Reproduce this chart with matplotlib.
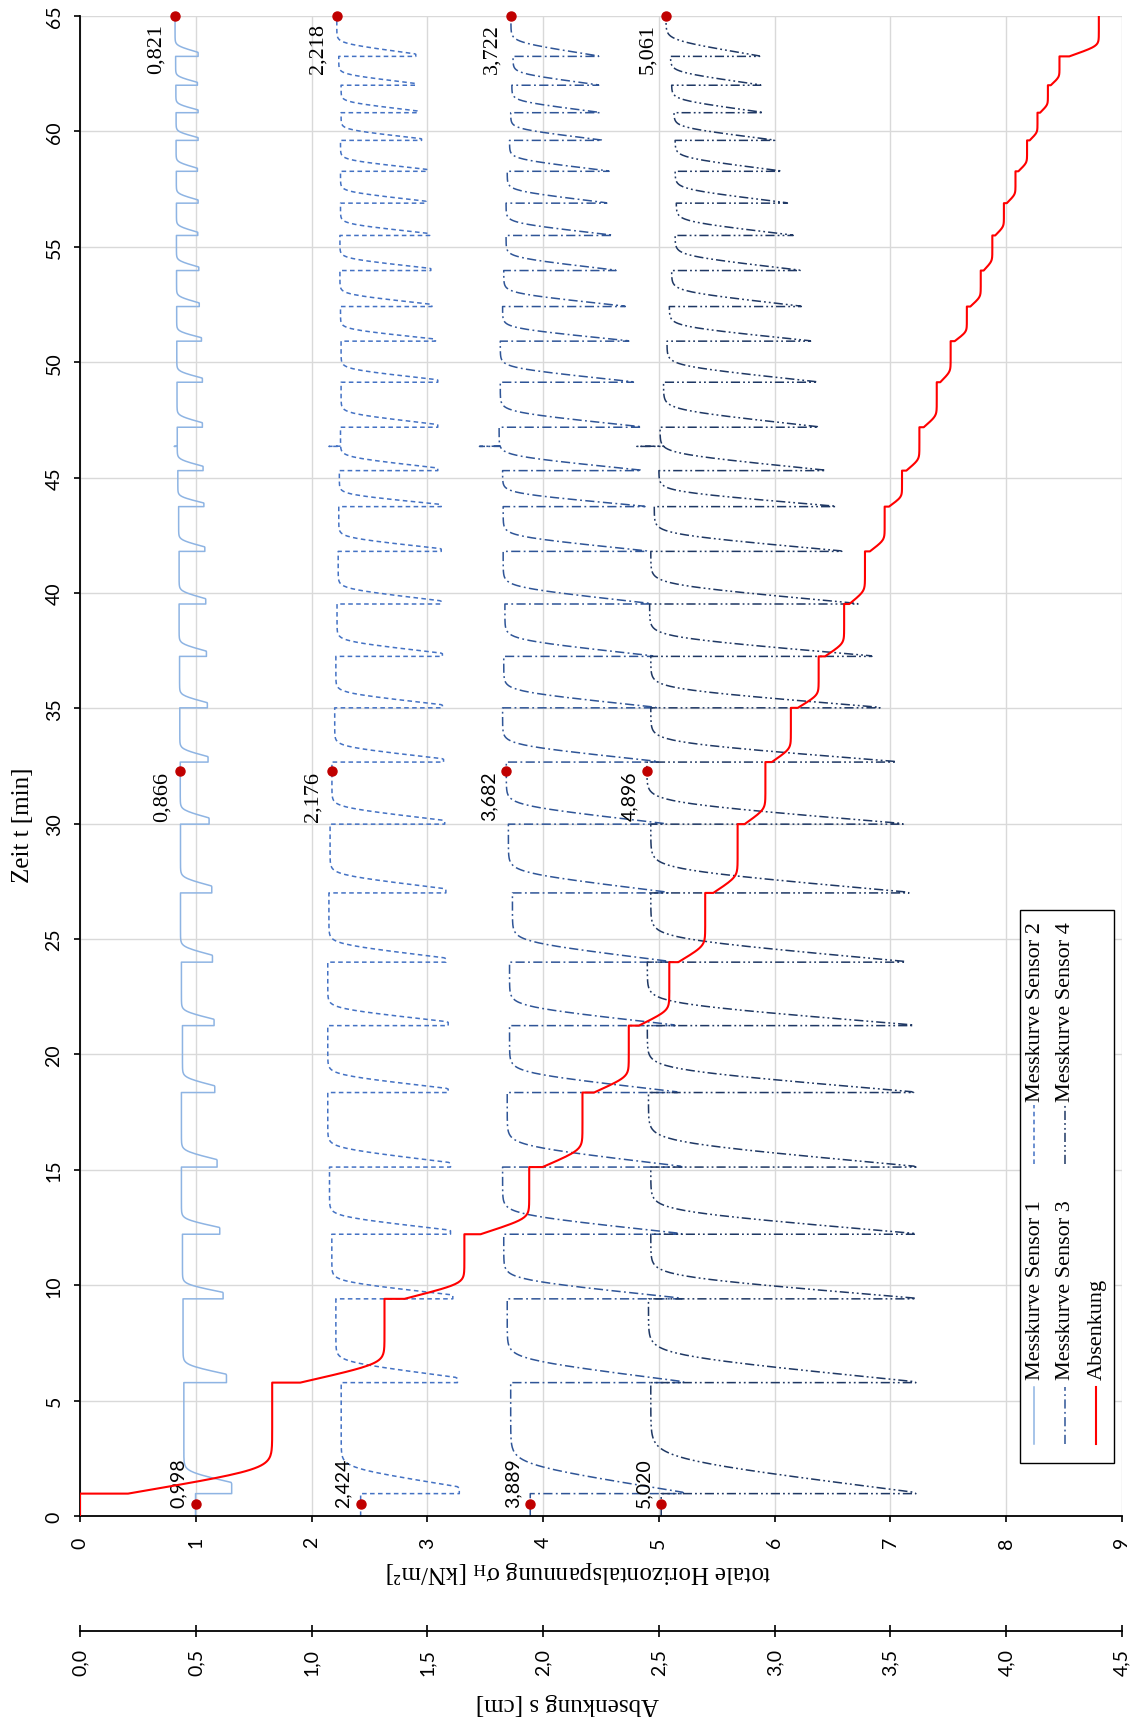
import numpy as np
import matplotlib
matplotlib.use("Agg")
import matplotlib.pyplot as plt
from matplotlib.lines import Line2D
from matplotlib.patches import Rectangle

W, H, DPI = 1137, 1724, 100

# ---------------------------------------------------------------- data
# load steps (minutes)
event_t = [0.97, 5.78, 9.41, 12.21, 15.12, 18.35, 21.25, 24.00, 27.00, 29.98,
           32.67, 35.02, 37.25, 39.52, 41.80, 43.74, 45.30, 47.18, 49.13, 50.91,
           52.41, 53.97, 55.49, 56.89, 58.27, 59.61, 60.81, 62.00, 63.25]
t_end = 65.0

# sensor 1 [kN/m2]: value before first step, peak at each step, settled value after it
s1_start = 0.998
s1_peak = [1.310, 1.265, 1.236, 1.207, 1.184, 1.164, 1.158, 1.144, 1.138, 1.115,
           1.106, 1.100, 1.092, 1.086, 1.078, 1.070, 1.063, 1.057, 1.057, 1.049,
           1.030, 1.026, 1.017, 1.020, 1.014, 1.020, 1.020, 1.014, 1.020]
s1_base = [0.897, 0.890, 0.885, 0.876, 0.876, 0.885, 0.876, 0.868, 0.868, 0.866,
           0.862, 0.860, 0.856, 0.856, 0.852, 0.845, 0.840, 0.838, 0.836, 0.835,
           0.834, 0.833, 0.833, 0.832, 0.830, 0.830, 0.828, 0.826, 0.821]

s2_start = 2.424
s2_peak = [3.276, 3.260, 3.220, 3.200, 3.200, 3.180, 3.180, 3.160, 3.160, 3.150,
           3.140, 3.130, 3.130, 3.120, 3.120, 3.120, 3.090, 3.090, 3.090, 3.070,
           3.040, 3.030, 3.020, 2.990, 3.000, 2.950, 2.920, 2.900, 2.900]
s2_base = [2.256, 2.210, 2.175, 2.155, 2.140, 2.140, 2.140, 2.150, 2.160, 2.176,
           2.200, 2.210, 2.220, 2.230, 2.235, 2.240, 2.250, 2.255, 2.255, 2.250,
           2.245, 2.245, 2.250, 2.250, 2.250, 2.255, 2.255, 2.235, 2.218]

s3_start = 3.889
s3_peak = [5.220, 5.220, 5.200, 5.200, 5.200, 5.160, 5.140, 5.100, 5.080, 5.050,
           5.000, 4.980, 4.950, 4.930, 4.900, 4.880, 4.850, 4.850, 4.780, 4.740,
           4.710, 4.630, 4.600, 4.550, 4.570, 4.510, 4.490, 4.480, 4.480]
s3_base = [3.720, 3.690, 3.660, 3.650, 3.690, 3.710, 3.710, 3.735, 3.700, 3.682,
           3.650, 3.660, 3.670, 3.655, 3.655, 3.650, 3.620, 3.630, 3.630, 3.650,
           3.660, 3.680, 3.680, 3.690, 3.710, 3.720, 3.730, 3.740, 3.722]

s4_start = 5.020
s4_peak = [7.220, 7.220, 7.220, 7.220, 7.220, 7.200, 7.200, 7.130, 7.160, 7.110,
           7.050, 6.910, 6.840, 6.720, 6.580, 6.530, 6.440, 6.380, 6.370, 6.310,
           6.230, 6.220, 6.160, 6.110, 6.060, 6.000, 5.900, 5.880, 5.870]
s4_base = [4.930, 4.910, 4.930, 4.930, 4.910, 4.900, 4.900, 4.930, 4.930, 4.896,
           4.930, 4.930, 4.920, 4.930, 4.960, 5.000, 5.010, 5.040, 5.070, 5.090,
           5.110, 5.140, 5.150, 5.140, 5.140, 5.130, 5.110, 5.100, 5.061]

# short drop-out of all four sensors
glitch_t = 46.35
glitch_val = [0.813, 2.150, 3.450, 4.810]

# settlement [cm]: value before first step and settled value after each step
settle_start = 0.0
settle_level = [0.830, 1.315, 1.660, 1.940, 2.170, 2.370, 2.545, 2.700, 2.840, 2.960,
                3.070, 3.190, 3.300, 3.390, 3.475, 3.550, 3.625, 3.700, 3.760, 3.830,
                3.890, 3.940, 3.990, 4.040, 4.090, 4.135, 4.180, 4.230, 4.400]

# labelled readings
mark_t = [0.5, 32.3, 65.0]
mark_vals = [[0.998, 2.424, 3.889, 5.020],
             [0.866, 2.176, 3.682, 4.896],
             [0.821, 2.218, 3.722, 5.061]]

legend_names = ["Messkurve Sensor 1", "Messkurve Sensor 2", "Messkurve Sensor 3",
                "Messkurve Sensor 4", "Absenkung"]

sigma_ticks = list(range(0, 10))
settle_ticks = [0.0, 0.5, 1.0, 1.5, 2.0, 2.5, 3.0, 3.5, 4.0, 4.5]
time_ticks = list(range(0, 70, 5))


# ---------------------------------------------------------------- curves
def _softplus(x):
    return np.log1p(np.exp(-np.abs(x))) + np.maximum(x, 0)


def step_response(start, jump_to, settle, hold_frac, d_frac, d_off, k=5.0, n=80):
    """Piecewise response: jump at each step, hold, then relax to the settled value."""
    ts = [0.0, event_t[0]]
    vs = [start, start]
    for i, te in enumerate(event_t):
        t_next = event_t[i + 1] if i + 1 < len(event_t) else t_end
        span = t_next - te
        hold = hold_frac * span
        d = d_frac * span + d_off
        tt = np.linspace(te, t_next, n)
        s = (tt - te - hold) / d
        g = np.where(s <= 0, 1.0, _softplus(k * (1 - s)) / _softplus(k))
        vv = settle[i] + (jump_to[i] - settle[i]) * g
        ts.extend(tt.tolist())
        vs.extend(vv.tolist())
    return np.array(ts), np.array(vs)


def add_glitch(ts, vs, t0, dip):
    i = np.searchsorted(ts, t0)
    v = np.interp(t0, ts, vs)
    ts = np.insert(ts, i, [t0, t0, t0 + 0.01])
    vs = np.insert(vs, i, [v, dip, v])
    return ts, vs


sensors = []
for start, pk, bs, hf, df, do, kk, gv in [
        (s1_start, s1_peak, s1_base, 0.10, 0.06, 0.18, 4.0, glitch_val[0]),
        (s2_start, s2_peak, s2_base, 0.06, 0.12, 0.25, 5.0, glitch_val[1]),
        (s3_start, s3_peak, s3_base, 0.01, 0.20, 0.25, 5.0, glitch_val[2]),
        (s4_start, s4_peak, s4_base, 0.01, 0.25, 0.25, 5.0, glitch_val[3])]:
    t, v = step_response(start, pk, bs, hf, df, do, k=kk)
    sensors.append(add_glitch(t, v, glitch_t, gv))

# settlement: partial instantaneous jump, then creeping towards the new level
prev = [settle_start] + settle_level[:-1]
settle_jump = [p + 0.25 * (n - p) for p, n in zip(prev, settle_level)]
st, sv = step_response(settle_start, settle_jump, settle_level, 0.0, 0.20, 0.10, k=5.0)

# ---------------------------------------------------------------- figure
SANS = ["Lato", "DejaVu Sans"]
SERIF = ["Liberation Serif", "DejaVu Serif"]
plt.rcParams["font.family"] = SANS
plt.rcParams["mathtext.fontset"] = "custom"
plt.rcParams["mathtext.rm"] = "Liberation Serif"
plt.rcParams["mathtext.it"] = "Liberation Serif:italic"

fig = plt.figure(figsize=(W / DPI, H / DPI), dpi=DPI)
fig.patch.set_facecolor("white")


def fx(x):
    return x / W


def fy(y):
    return 1 - y / H


x0, x1, ytop, ybot = 80, 1122, 17, 1517
ax = fig.add_axes([fx(x0), fy(ybot), (x1 - x0) / W, (ybot - ytop) / H])
ax.set_xlim(0, 9)
ax.set_ylim(0, 65)
ax.set_xticks(sigma_ticks)
ax.set_yticks(time_ticks)
ax.set_xticklabels([str(v) for v in sigma_ticks], rotation=90, fontsize=14)
ax.set_yticklabels([str(v) for v in time_ticks], rotation=90, va="center", fontsize=14)
ax.grid(True, color="#D9D9D9", lw=1.0)
ax.set_axisbelow(True)
for side in ("top", "right"):
    ax.spines[side].set_visible(False)
for side in ("left", "bottom"):
    ax.spines[side].set_linewidth(1.3)
    ax.spines[side].set_color("black")
ax.tick_params(axis="x", direction="out", length=4.5, width=1.2, pad=10)
ax.tick_params(axis="y", direction="out", length=4.5, width=1.2, pad=8)

colors = ["#8EB4E3", "#4472C4", "#2F5597", "#1F3864"]
dashes = [None, (3.0, 2.2), (6.0, 2.2, 1.2, 2.2), (6.0, 2.0, 1.2, 2.0, 1.2, 2.0)]
for (t, v), c, ds in zip(sensors, colors, dashes):
    ln, = ax.plot(v, t, color=c, lw=1.1, solid_joinstyle="round")
    if ds is not None:
        ln.set_dashes(ds)

# labelled readings
for gi, (tm, vals) in enumerate(zip(mark_t, mark_vals)):
    for si, val in enumerate(vals):
        ax.plot([val], [tm], "o", color="#C00000", ms=6.5, zorder=6, clip_on=False)
        fam = SANS if gi == 0 or (gi == 1 and si >= 2) else SERIF
        fsz = 14 if fam is SANS else 16
        va = "bottom" if gi == 0 else "top"
        dy = -2 if gi == 0 else (0 if gi == 1 else -5)
        ax.annotate(f"{val:.3f}".replace(".", ","), xy=(val, tm), xytext=(-6.5, dy),
                    textcoords="offset points", rotation=90, ha="right", va=va,
                    fontsize=fsz, family=fam, annotation_clip=False)

# settlement on its own scale below the stress axis
ax_s = ax.twiny()
ax_s.set_xlim(0, 4.5)
ax_s.set_ylim(0, 65)
ax_s.plot(sv, st, color="#FF0000", lw=1.5)
for side in ("top", "right", "left"):
    ax_s.spines[side].set_visible(False)
ax_s.xaxis.set_ticks_position("bottom")
ax_s.xaxis.set_label_position("bottom")
ax_s.spines["bottom"].set_position(("outward", 115 * 72 / DPI))
ax_s.spines["bottom"].set_linewidth(1.3)
ax_s.set_xticks(settle_ticks)
ax_s.set_xticklabels([f"{v:.1f}".replace(".", ",") for v in settle_ticks],
                     rotation=90, fontsize=14)
ax_s.tick_params(axis="x", direction="inout", length=8, width=1.2, pad=8)
ax_s.grid(False)

# axis titles
fig.text(fx(23), fy(825), "Zeit t [min]", rotation=90, ha="center", va="center",
         fontsize=18, family=SERIF)
fig.text(fx(578), fy(1572), "totale Horizontalspannung σ$_\\mathrm{H}$ [kN/m²]",
         rotation=180, ha="center", va="center", fontsize=18, family=SERIF)
fig.text(fx(567), fy(1704), "Absenkung s [cm]", rotation=180, ha="center",
         va="center", fontsize=18, family=SERIF)

# legend (drawn rotated like the rest of the chart)
fig.add_artist(Rectangle((fx(1020), fy(1464)), (1114 - 1020) / W, (1464 - 911) / H,
                         transform=fig.transFigure, facecolor="white",
                         edgecolor="black", lw=1.0, zorder=10))
leg_styles = [(colors[0], None), (colors[1], dashes[1]), (colors[2], dashes[2]),
              (colors[3], dashes[3]), ("#FF0000", None)]
leg_slots = [(1034, 1445, 1388, 1380), (1034, 1165, 1106, 1102),
             (1065, 1445, 1388, 1380), (1065, 1165, 1106, 1102),
             (1096, 1445, 1388, 1380)]
for name, (c, ds), (lx, ya, yb, ytxt) in zip(legend_names, leg_styles, leg_slots):
    ln = Line2D([fx(lx), fx(lx)], [fy(ya), fy(yb)], transform=fig.transFigure,
                color=c, lw=1.5 if c == "#FF0000" else 1.1, zorder=11)
    if ds is not None:
        ln.set_dashes(ds)
    fig.add_artist(ln)
    fig.text(fx(lx + 1), fy(ytxt), name, rotation=90, ha="center", va="bottom",
             fontsize=16, family=SERIF, zorder=12)

fig.savefig("out.png", dpi=DPI, facecolor="white")
